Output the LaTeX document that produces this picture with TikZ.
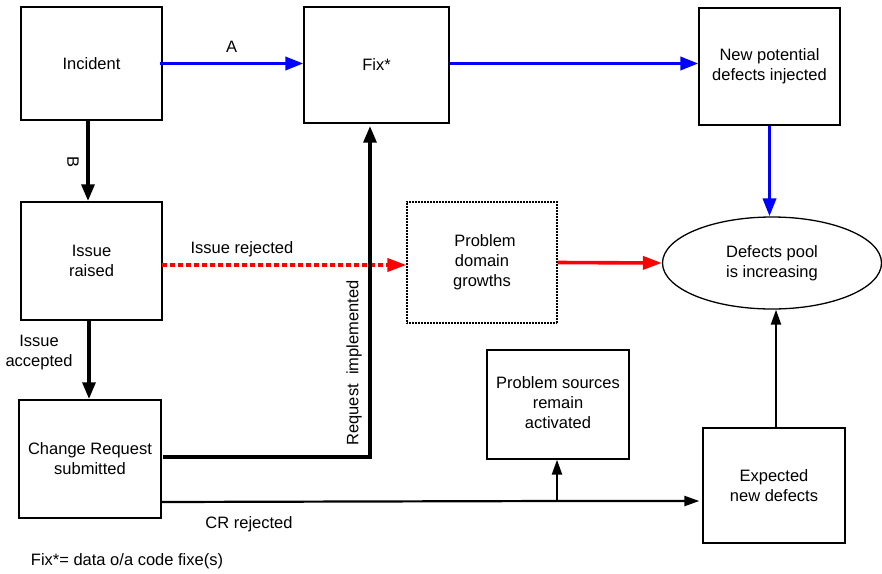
\documentclass[tikz,border=0pt]{standalone}
\usepackage{fontspec}
\setmainfont{Liberation Sans}
\usetikzlibrary{arrows.meta,shapes.geometric}

\tikzset{
  box/.style={draw, line width=1.3pt, rectangle, align=center, inner sep=0pt},
  blueflow/.style={draw=blue, line width=3.6pt, -{Triangle[length=18pt,width=13pt]}},
  redflow/.style={draw=red, line width=3.6pt, -{Triangle[length=19pt,width=13pt]}},
  heavyflow/.style={draw=black, line width=4.3pt, -{Triangle[length=17pt,width=12.5pt]}},
  thinflow/.style={draw=black, line width=2.2pt, -{Triangle[length=15pt,width=10pt]}},
  lbl/.style={inner sep=0pt, align=center}
}

\begin{document}
\begin{tikzpicture}[x=1pt, y=-1pt, font=\fontsize{16.5}{20}\selectfont]
    \useasboundingbox (0,0) rectangle (882,573);

    % boxes
    \node[box, minimum width=141pt, minimum height=113pt] (incident) at (91.5,63.5) {Incident};
    \node[box, minimum width=145pt, minimum height=116pt] (fix) at (376.5,65) {Fix*};
    \node[box, minimum width=141pt, minimum height=117pt] (newdef) at (769.5,66.5) {New potential\\defects injected};
    \node[box, minimum width=141pt, minimum height=118pt] (issue) at (91.5,261) {Issue\\raised};
    \node[box, dash pattern=on 1pt off 0.5pt, minimum width=150pt, minimum height=121pt] (domain) at (482,262.5) {\hspace{6pt}Problem\\domain\\growths};
    \node[draw, line width=1.3pt, ellipse, minimum width=219pt, minimum height=92pt, align=center, inner sep=0pt] (pool) at (772,263) {Defects pool\\is increasing};
    \node[box, minimum width=142pt, minimum height=118pt] (cr) at (90,459) {Change Request\\submitted};
    \node[box, minimum width=142pt, minimum height=109pt] (sources) at (558,404.5) {\raisebox{-3pt}{\begin{tabular}{@{}c@{}}Problem sources\\remain\\activated\end{tabular}}};
    \node[box, minimum width=142pt, minimum height=115pt] (expected) at (774,485.5) {Expected\\new defects};

    % turning points and line ends
    \coordinate (crout) at (163,457);
    \coordinate (crturn) at (370,457);
    \coordinate (rejout) at (161,502);
    \coordinate (branch) at (557,501);
    \coordinate (redout) at (162,265);

    % blue path
    \draw[blueflow] ([xshift=-3pt]incident.east) -- (fix.west |- incident.east)
        node[lbl, midway, above=9pt] {A};
    \draw[blueflow] (fix.east |- incident.east) -- (newdef.west |- incident.east);
    \draw[blueflow] (newdef.south) -- (newdef.south |- pool.north);

    % issue handling
    \draw[heavyflow] ([xshift=-3.5pt]incident.south) -- ([xshift=-3.5pt]incident.south |- issue.north);
    \node[lbl, rotate=-90] (blbl) at (73,162) {B};
    \draw[redflow, dash pattern=on 5pt off 3pt] (redout) -- (domain.west |- redout);
    \node[lbl] (rejlbl) at (242,249) {Issue rejected};
    \draw[redflow] (domain.east) -- (pool.west);
    \draw[heavyflow] ([xshift=-2.5pt]issue.south) -- ([xshift=-1pt]cr.north);
    \node[lbl] (acclbl) at (39,353) {Issue\\accepted};

    % change request outcomes
    \draw[heavyflow, shorten >=2pt] (crout) -- (crturn) -- (crturn |- fix.south);
    \node[lbl, rotate=90] (implbl) at (354,363) {Request\ \ implemented};
    \draw[thinflow] (rejout) -- (branch) -- ([xshift=-3pt]expected.west |- branch);
    \node[lbl] (crlbl) at (249,524) {CR rejected};
    \draw[thinflow] (branch) -- (branch |- sources.south);
    \draw[thinflow] ([xshift=2pt]expected.north) -- ([xshift=2pt]expected.north |- pool.south);

    % note
    \node[lbl] (note) at (127,561) {Fix*= data o/a code fixe(s)};
\end{tikzpicture}
\end{document}
